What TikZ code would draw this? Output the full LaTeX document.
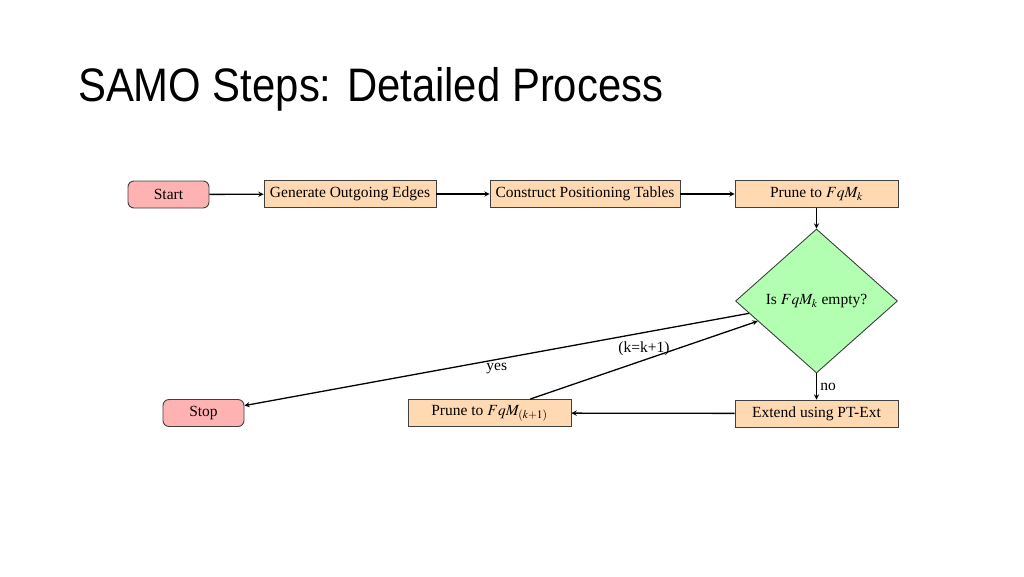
\documentclass[tikz,border=0pt]{standalone}
\usepackage{mathptmx}
\usepackage{fontspec}
\setmainfont{Liberation Serif}
\newfontfamily\titlefont{Liberation Sans}
\usetikzlibrary{shapes.geometric,arrows.meta}

\begin{document}
\begin{tikzpicture}[x=1pt,y=-1pt,font=\fontsize{15.5}{18}\selectfont,
        startstop/.style={rectangle,rounded corners=6pt,draw=black!75,line width=0.9pt,fill=red!30,minimum width=81,minimum height=27,inner sep=2pt},
        process/.style={rectangle,draw=black!75,line width=0.9pt,fill=orange!30,minimum height=27,inner sep=2pt},
        decision/.style={diamond,draw=black!75,line width=0.9pt,fill=green!30,minimum width=162,minimum height=144,inner sep=0pt},
        arrow/.style={line width=1.3pt,->,>=stealth}]
        \useasboundingbox (0,0) rectangle (1024,576);
        %% Title
        \node[anchor=base west,inner sep=0pt,xscale=0.89,transform shape,font=\titlefont\fontsize{47}{50}\selectfont] (title) at (78,101) {SAMO Steps: Detailed Process};
        %% Top row
        \node[startstop] (start) at (168.5,194.5) {Start};
        \node[process,minimum width=172] (gen) at (350,194) {Generate Outgoing Edges};
        \node[process,minimum width=190] (tables) at (585,194) {Construct Positioning Tables};
        \node[process,minimum width=163] (prune) at (816.5,194) {Prune to $FqM_k$};
        %% Decision
        \node[decision] (empty) at (816.5,301) {Is $FqM_k$ empty?};
        %% Bottom row
        \node[process,minimum width=163] (extend) at (816.5,413.5) {Extend using PT-Ext};
        \node[process,minimum width=163] (prunenext) at (489.5,413) {Prune to $FqM_{(k+1)}$};
        \node[startstop] (stop) at (203.5,413) {Stop};
        %% Arrows
        \foreach \a/\b in {start/gen,gen/tables,tables/prune,prune/empty,extend/prunenext} {
            \draw[arrow] (\a) -- (\b);
        }
        \draw[arrow] (empty) -- node[anchor=west] {no} (extend);
        \draw[arrow] (empty) -- node[anchor=north,pos=0.5] {yes} (stop);
        \draw[arrow] (prunenext) -- node[anchor=south,pos=0.5] {(k=k+1)} (empty);
    \end{tikzpicture}
\end{document}
